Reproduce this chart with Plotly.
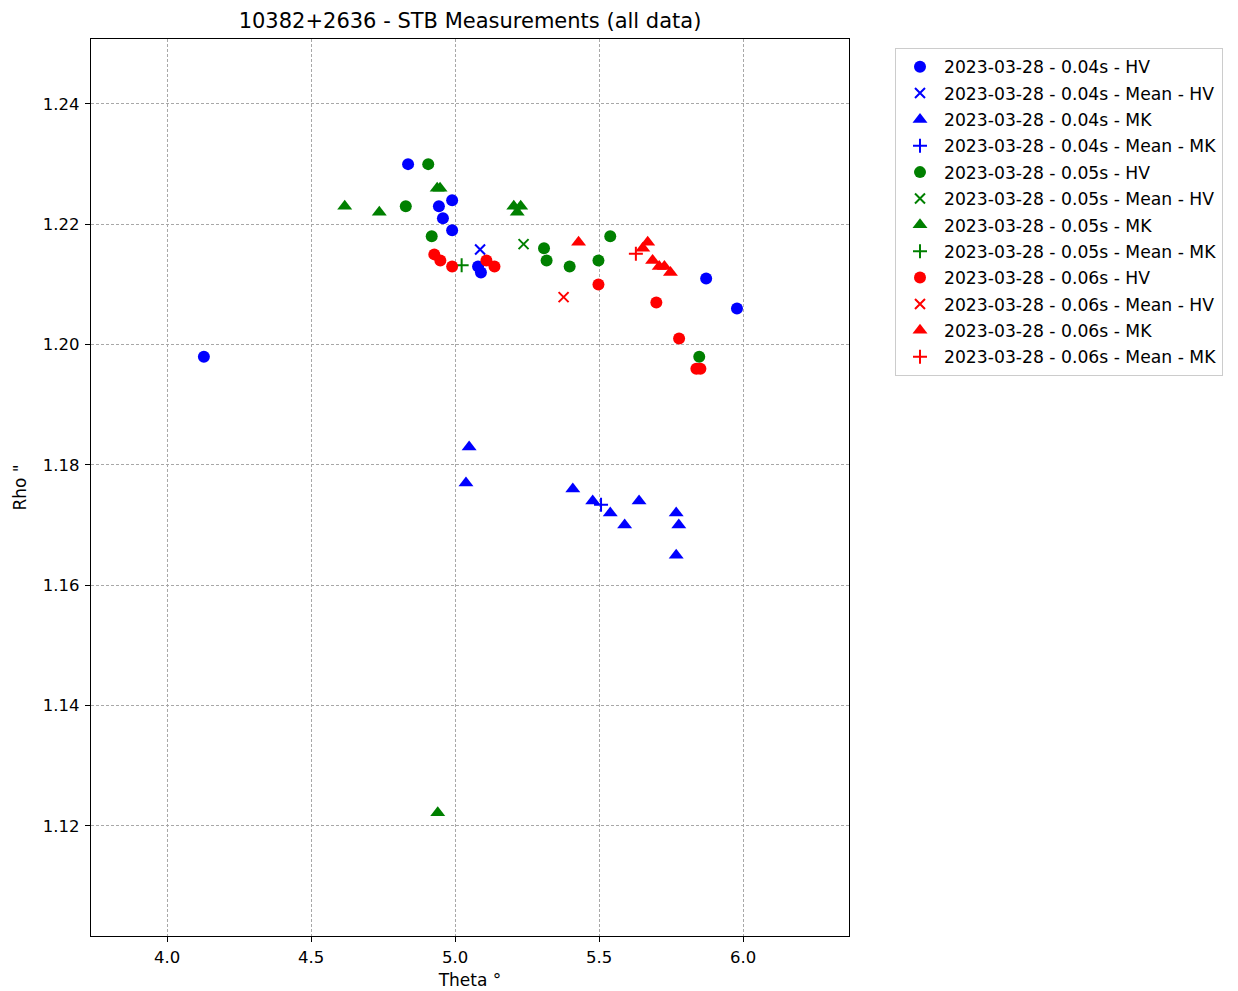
import plotly.graph_objects as go

# ---- data ----
b_hv_theta = [4.128, 4.837, 4.944, 4.990, 4.958, 4.990, 5.080, 5.090, 5.872, 5.979]
b_hv_rho = [1.198, 1.230, 1.223, 1.224, 1.221, 1.219, 1.213, 1.212, 1.211, 1.206]
b_mhv_theta = [5.087]
b_mhv_rho = [1.2158]
b_mk_theta = [5.049, 5.038, 5.409, 5.478, 5.539, 5.589, 5.639, 5.768, 5.777, 5.768]
b_mk_rho = [1.183, 1.177, 1.176, 1.174, 1.172, 1.170, 1.174, 1.172, 1.170, 1.165]
b_mmk_theta = [5.507]
b_mmk_rho = [1.1734]

g_hv_theta = [4.907, 4.829, 4.919, 5.309, 5.318, 5.398, 5.539, 5.498, 5.848]
g_hv_rho = [1.230, 1.223, 1.218, 1.216, 1.214, 1.213, 1.218, 1.214, 1.198]
g_mhv_theta = [5.238]
g_mhv_rho = [1.2167]
g_mk_theta = [4.617, 4.737, 4.938, 4.948, 5.204, 5.228, 5.216, 4.940]
g_mk_rho = [1.223, 1.222, 1.226, 1.226, 1.223, 1.223, 1.222, 1.1222]
g_mmk_theta = [5.023]
g_mmk_rho = [1.2132]

r_hv_theta = [4.928, 4.949, 4.990, 5.109, 5.137, 5.498, 5.699, 5.778, 5.838, 5.852]
r_hv_rho = [1.215, 1.214, 1.213, 1.214, 1.213, 1.210, 1.207, 1.201, 1.196, 1.196]
r_mhv_theta = [5.377]
r_mhv_rho = [1.2079]
r_mk_theta = [5.429, 5.669, 5.652, 5.686, 5.709, 5.727, 5.748]
r_mk_rho = [1.217, 1.217, 1.216, 1.214, 1.213, 1.213, 1.212]
r_mmk_theta = [5.628]
r_mmk_rho = [1.2151]

x_ticks = [4.0, 4.5, 5.0, 5.5, 6.0]
y_ticks = [1.12, 1.14, 1.16, 1.18, 1.20, 1.22, 1.24]

prefix = "2023-03-28 - "
groups = [
    ("0.04s", "blue", b_hv_theta, b_hv_rho, b_mhv_theta, b_mhv_rho, b_mk_theta, b_mk_rho, b_mmk_theta, b_mmk_rho),
    ("0.05s", "green", g_hv_theta, g_hv_rho, g_mhv_theta, g_mhv_rho, g_mk_theta, g_mk_rho, g_mmk_theta, g_mmk_rho),
    ("0.06s", "red", r_hv_theta, r_hv_rho, r_mhv_theta, r_mhv_rho, r_mk_theta, r_mk_rho, r_mmk_theta, r_mmk_rho),
]

fig = go.Figure()
i = 0
for exp, col, hx, hy, mhx, mhy, kx, ky, mkx, mky in groups:
    specs = [
        ("HV", hx, hy, dict(symbol="circle", size=12, color=col)),
        ("Mean - HV", mhx, mhy, dict(symbol="x-thin", size=10, color=col, line=dict(color=col, width=2))),
        ("MK", kx, ky, dict(symbol="triangle-up", size=13, color=col)),
        ("Mean - MK", mkx, mky, dict(symbol="cross-thin", size=10, color=col, line=dict(color=col, width=2))),
    ]
    for name, xs, ys, mk in specs:
        fig.add_trace(go.Scatter(
            x=xs, y=ys, mode="markers", marker=mk,
            name=f"{prefix}{exp} - {name}", legendgroup=f"g{i}",
        ))
        i += 1

W, H = 1231, 984
fig.update_layout(
    width=W, height=H,
    margin=dict(l=83, r=390, t=31, b=56),
    paper_bgcolor="white", plot_bgcolor="white",
    font=dict(family="DejaVu Sans", size=16.5, color="black"),
    title=dict(text="10382+2636 - STB Measurements (all data)", xref="paper", x=0.5, xanchor="center",
               yref="container", y=1 - 13 / H, yanchor="middle", font=dict(size=21)),
    legend=dict(xref="container", yref="container", x=887 / W, y=1 - 40 / H,
                xanchor="left", yanchor="top",
                bordercolor="#cccccc", borderwidth=1, bgcolor="white", itemwidth=38,
                font=dict(size=17.2), tracegroupgap=1, traceorder="grouped"),
    showlegend=True,
)
fig.update_xaxes(
    range=[3.736, 6.368], tickvals=x_ticks, ticktext=[f"{v:.1f}" for v in x_ticks],
    showgrid=True, gridcolor="#a8a8a8", griddash="3px,2px", gridwidth=0.8,
    showline=True, linecolor="black", linewidth=1.2, mirror=True,
    ticks="outside", ticklen=5, tickcolor="black", zeroline=False, automargin=False,
    tickfont=dict(size=16.5), ticklabelstandoff=1,
    title=dict(text="Theta °", standoff=8, font=dict(size=17)),
)
fig.update_yaxes(
    range=[1.1017, 1.2508], tickvals=y_ticks, ticktext=[f"{v:.2f}" for v in y_ticks],
    showgrid=True, gridcolor="#a8a8a8", griddash="3px,2px", gridwidth=0.8,
    showline=True, linecolor="black", linewidth=1.2, mirror=True,
    ticks="outside", ticklen=5, tickcolor="black", zeroline=False, automargin=False,
    tickfont=dict(size=16.5), ticklabelstandoff=2,
    title=dict(text="Rho \"", standoff=11, font=dict(size=17)),
)

fig.write_html("out.html")
